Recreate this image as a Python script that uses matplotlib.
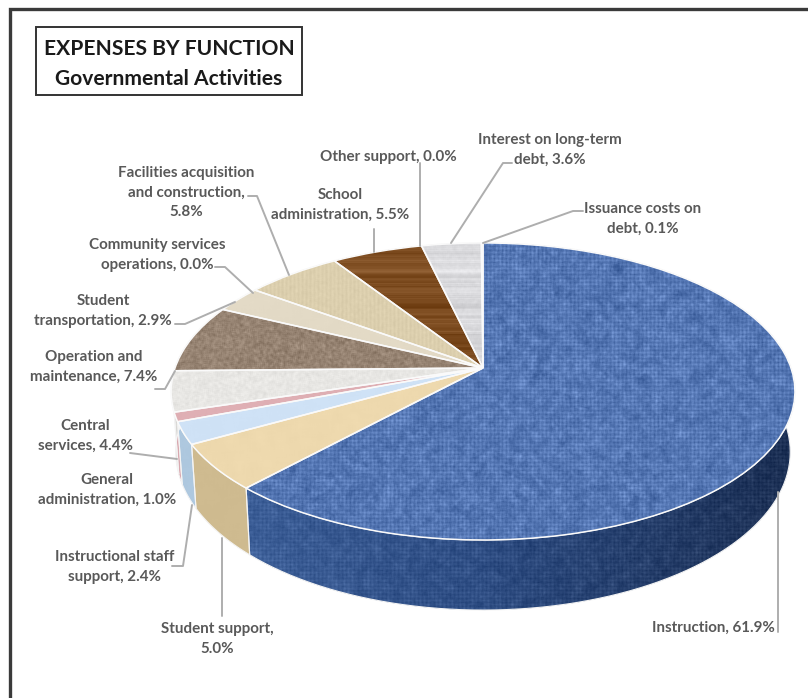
import numpy as np
import matplotlib
matplotlib.use("Agg")
import matplotlib.pyplot as plt
from matplotlib.transforms import Transform
from matplotlib.patches import PathPatch, Polygon, Rectangle
from matplotlib.colors import to_rgb

# ---------- data ----------
functions = ["Instruction", "Student support", "Instructional staff\nsupport", "General\nadministration",
             "Central\nservices", "Operation and\nmaintenance", "Student\ntransportation",
             "Community services\noperations", "Facilities acquisition\nand construction,",
             "School\nadministration", "Other support", "Interest on long-term\ndebt",
             "Issuance costs on\ndebt"]
shares = [61.9, 5.0, 2.4, 1.0, 4.4, 7.4, 2.9, 0.0, 5.8, 5.5, 0.0, 3.6, 0.1]
share_text = ["61.9%", "5.0%", "2.4%", "1.0%", "4.4%", "7.4%", "2.9%", "0.0%", "5.8%", "5.5%", "0.0%", "3.6%", "0.1%"]
title_lines = "EXPENSES BY FUNCTION\nGovernmental Activities"

# ---------- style and layout (pixels) ----------
top_colors = ["#5577b4", "#eed9ae", "#cfe2f6", "#dfafb4", "#e8e7e4", "#968372", "#e3dac6", "#e3dac6",
              "#dccfae", "#7d4c20", "#d9d9dc", "#d9d9dc", "#dbe0ea"]
side_colors = ["#30508a", "#cfbb90", "#aec8df", "#d9a9b0", "#d8d7d4", "#7a6a5c", "#c8bfab", "#c8bfab",
               "#c0b494", "#5f3a18", "#b8b8bc", "#b8b8bc", "#c0c5d0"]
textures = ["weave", "soft", "soft", "soft", "grain", "grain", "soft", "soft", "linen", "wood", "streak", "streak", "soft"]
amps = [0.07, 0.018, 0.012, 0.012, 0.03, 0.07, 0.015, 0.015, 0.025, 0.07, 0.07, 0.07, 0.01]
label_xy = [(713, 628), (217, 639), (115, 567), (107, 490), (85, 436), (94, 367), (103, 311),
            (157, 255), (186, 193), (340, 205), (388, 157), (550, 150), (643, 219)]
leaders = [[(778, 492), (778, 632)],
           [(222, 538), (222, 616)],
           [(192, 505), (183, 566), (172, 566)],
           [],
           [(130, 453), (177, 459)],
           [(175, 371), (165, 389), (155, 389)],
           [(175, 324), (185, 324), (235, 302)],
           [(215, 267), (225, 267), (253, 293)],
           [(248, 196), (257, 196), (289, 275)],
           [(374, 229), (374, 252)],
           [(420, 163), (420, 246)],
           [(512, 163), (503, 163), (451, 243)],
           [(583, 211), (573, 211), (483, 243)]]
CX, CY, A, B, K = 483.0, 368.0, 308.0, 144.8, 0.158
DEPTH = 59.0
TXT = "#595959"
FONT = ["Lato", "DejaVu Sans"]
W, H = 808, 698


class Tilt(Transform):
    """Perspective projection of the unit pie disc on to the page."""
    input_dims = output_dims = 2
    is_separable = False
    has_inverse = False

    def transform_non_affine(self, values):
        values = np.asarray(values, float)
        u, v = values[:, 0], values[:, 1]
        w = 1 + K * v
        return np.column_stack([CX + A * u / w, CY - B * v / w])


def blur(a, n):
    for axis in (0, 1):
        a = sum(np.roll(a, s, axis=axis) for s in range(-n, n + 1)) / (2 * n + 1)
    return a


def hashed(x, y):
    h = np.sin(x * 127.1 + y * 311.7) * 43758.5453
    h = h - np.floor(h)
    h = np.sin(h * 269.5 + x * 183.3 + y * 41.9) * 15731.743
    return h - np.floor(h) - 0.5


yy, xx = np.mgrid[0:H, 0:W].astype(float)
speck = hashed(xx, yy)
row = hashed(np.zeros_like(yy), yy)
cloth = (np.cos(xx * np.pi / 2) + np.cos(yy * np.pi / 2)) * (0.55 + 2.0 * blur(speck, 2))
patterns = {
    "weave": 0.7 * cloth + 3.0 * blur(speck, 1) + 6.0 * blur(speck, 4),
    "soft": 5.0 * blur(speck, 5),
    "grain": 4.0 * blur(speck, 1),
    "linen": 0.5 * np.cos(xx * np.pi / 2) + 2.5 * blur(speck, 1),
    "wood": 3.0 * blur(row, 1),
    "streak": 2.5 * blur(row + 0.4 * speck, 1),
}


def textured(color, pattern, amp, shade=None):
    rgb = np.array(to_rgb(color))
    img = np.ones((H, W, 3)) * rgb
    if shade is not None:
        img = shade
    img = img + (amp * patterns[pattern])[:, :, None]
    return np.clip(img, 0, 1)


fig = plt.figure(figsize=(W / 100, H / 100), dpi=100, facecolor="white")
ax = fig.add_axes([0, 0, 1, 1])
wedges, _ = ax.pie(shares, colors=top_colors, startangle=90, counterclock=False, radius=1.0, center=(0, 0), normalize=True)
ax.set_aspect("auto")
ax.set_xlim(0, W)
ax.set_ylim(H, 0)
ax.axis("off")
tilt = Tilt()
project = tilt.transform_non_affine

# side wall of the pie
stops_x = [250, 480, 780]
stops_c = [to_rgb("#3e6099"), to_rgb("#2f4e84"), to_rgb("#1e3257")]
blue_shade = np.stack([np.interp(xx, stops_x, [c[i] for c in stops_c]) for i in range(3)], axis=2)
for i, wedge in enumerate(wedges):
    if shares[i] == 0:
        continue
    ths = np.radians(np.linspace(wedge.theta1, wedge.theta2, 120))
    disc = np.column_stack([np.cos(ths), np.sin(ths)])
    upper = project(disc)
    lower = upper.copy()
    lower[:, 0] = CX + (upper[:, 0] - CX) * 0.985
    lower[:, 1] = upper[:, 1] + DEPTH / (1 + K * disc[:, 1])
    outline = np.vstack([upper, lower[::-1]])
    poly = Polygon(outline, closed=True, facecolor=side_colors[i], edgecolor="none", zorder=1)
    ax.add_patch(poly)
    shade = blue_shade if i == 0 else None
    im = ax.imshow(textured(side_colors[i], textures[i], amps[i] * (0.6 if i == 0 else 0.5), shade),
                   extent=(0, W, H, 0), aspect="auto", zorder=1.2, interpolation="bilinear")
    im.set_clip_path(poly)
    ax.add_patch(Polygon(outline, closed=True, facecolor="none", edgecolor="#f4f4f4", linewidth=0.8, zorder=1.3))

# top surface
for i, wedge in enumerate(wedges):
    wedge.set_transform(tilt + ax.transData)
    wedge.set_zorder(2)
    wedge.set_edgecolor("none")
    if shares[i] == 0:
        continue
    im = ax.imshow(textured(top_colors[i], textures[i], amps[i]), extent=(0, W, H, 0), aspect="auto",
                   zorder=2.2, interpolation="bilinear")
    im.set_clip_path(wedge)
for i, wedge in enumerate(wedges):
    if shares[i] == 0:
        continue
    ax.add_patch(PathPatch(wedge.get_path(), transform=wedge.get_transform(), facecolor="none",
                           edgecolor="#fafafa", linewidth=1.1, zorder=2.5))

# leaders and labels
for pts in leaders:
    if pts:
        xs, ys = zip(*pts)
        ax.plot(xs, ys, color="#aeaeae", linewidth=1.4, zorder=3, solid_capstyle="round")
for name, pct, (x, y) in zip(functions, share_text, label_xy):
    if name.endswith(","):
        txt = f"{name}\n{pct}"
    elif name == "Student support":
        txt = f"{name},\n{pct}"
    else:
        txt = f"{name}, {pct}"
    ax.text(x, y, txt, ha="center", va="center", color=TXT, fontsize=10.9, fontweight="bold",
            family=FONT, linespacing=1.5, zorder=4)

# frame and title box
ax.plot([10, 10, W], [H, 9, 9], color="#3a3a3a", linewidth=2.4, zorder=5, solid_joinstyle="miter", clip_on=False)
ax.add_patch(Rectangle((36, 27), 266, 68, facecolor="white", edgecolor="#333333", linewidth=1.4, zorder=5))
ax.text(169, 64, title_lines, ha="center", va="center", color="#1a1a1a", fontsize=15.1, fontweight="bold",
        family=FONT, linespacing=1.6, zorder=6)

ax.set_xlim(0, W)
ax.set_ylim(H, 0)
fig.savefig("out.png", dpi=100)
